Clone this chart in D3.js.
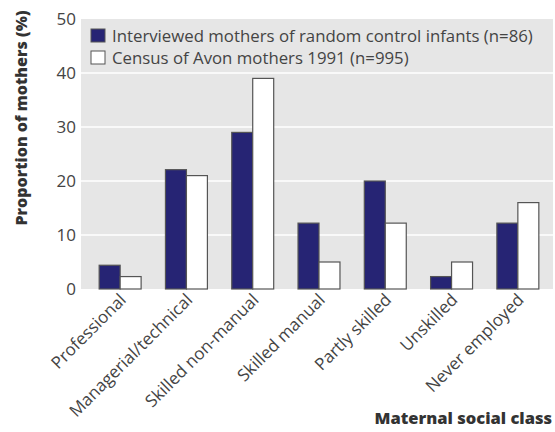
<!DOCTYPE html>
<html>
<head>
<meta charset="utf-8">
<script src="https://cdn.jsdelivr.net/npm/d3@7"></script>
<style>
  body { margin: 0; background: #fff; }
  text { font-family: "Open Sans", "Noto Sans", sans-serif; fill: #444; }
  .title { font-weight: 800; fill: #333; }
</style>
</head>
<body>
<div id="chart"></div>
<script>
const categories = ["Professional", "Managerial/technical", "Skilled non-manual",
  "Skilled manual", "Partly skilled", "Unskilled", "Never employed"];
const seriesNames = ["Interviewed mothers of random control infants (n=86)",
  "Census of Avon mothers 1991 (n=995)"];
const interviewed = [4.4, 22.1, 29, 12.2, 20, 2.3, 12.2];
const census = [2.3, 21, 39, 5, 12.2, 5, 16];
const yTicks = [0, 10, 20, 30, 40, 50];

const width = 555, height = 432;
const plot = { left: 81, right: 553, top: 19, bottom: 289 };

const svg = d3.select("#chart").append("svg")
  .attr("width", width)
  .attr("height", height);

const y = d3.scaleLinear().domain([0, 50]).range([plot.bottom, plot.top]);
const x0 = d3.scaleBand().domain(categories).range([87, 551]);
const x1 = d3.scaleBand().domain([0, 1]).range([0, x0.bandwidth()]).paddingOuter(0.58);

// background
svg.append("rect")
  .attr("x", plot.left).attr("y", plot.top)
  .attr("width", plot.right - plot.left)
  .attr("height", plot.bottom - plot.top)
  .attr("fill", "#e6e6e6");

// gridlines
svg.selectAll(".grid")
  .data(yTicks.filter(d => d > 0 && d < 50))
  .enter().append("line")
  .attr("x1", plot.left).attr("x2", plot.right)
  .attr("y1", d => y(d)).attr("y2", d => y(d))
  .attr("stroke", "#fff").attr("stroke-width", 1.5);

// y tick labels
svg.selectAll(".ytick")
  .data(yTicks)
  .enter().append("text")
  .attr("x", 76)
  .attr("y", d => y(d) + 6)
  .attr("text-anchor", "end")
  .style("font-size", "17px")
  .text(d => d);

// bars
const colors = ["#262474", "#ffffff"];
const rows = categories.map((c, i) => ({ cat: c, vals: [interviewed[i], census[i]] }));
const groups = svg.selectAll(".grp")
  .data(rows)
  .enter().append("g")
  .attr("transform", d => `translate(${x0(d.cat)},0)`);

groups.selectAll("rect")
  .data(d => d.vals.map((v, k) => ({ k, v })))
  .enter().append("rect")
  .attr("x", d => x1(d.k))
  .attr("y", d => y(d.v))
  .attr("width", x1.bandwidth())
  .attr("height", d => y(0) - y(d.v))
  .attr("fill", d => colors[d.k])
  .attr("stroke", "#555")
  .attr("stroke-width", 1.2);

// x labels
svg.selectAll(".xlab")
  .data(categories)
  .enter().append("text")
  .attr("text-anchor", "end")
  .attr("transform", d => `translate(${x0(d) + x0.bandwidth() / 2 + 7},${plot.bottom + 12}) rotate(-45)`)
  .style("font-size", "17px")
  .text(d => d);

// legend
const legend = svg.append("g").attr("transform", "translate(91,29)");
seriesNames.forEach((name, i) => {
  legend.append("rect")
    .attr("x", 0).attr("y", i * 22)
    .attr("width", 14).attr("height", 13)
    .attr("fill", colors[i])
    .attr("stroke", "#555").attr("stroke-width", 1);
  legend.append("text")
    .attr("x", 21).attr("y", i * 22 + 12.5)
    .style("font-size", "16.8px")
    .text(name);
});

// axis titles
svg.append("text")
  .attr("class", "title")
  .attr("transform", `translate(27,118) rotate(-90)`)
  .attr("text-anchor", "middle")
  .style("font-size", "16px")
  .text("Proportion of mothers (%)");

svg.append("text")
  .attr("class", "title")
  .attr("x", 552).attr("y", 424)
  .attr("text-anchor", "end")
  .style("font-size", "16.5px")
  .text("Maternal social class");
</script>
</body>
</html>
